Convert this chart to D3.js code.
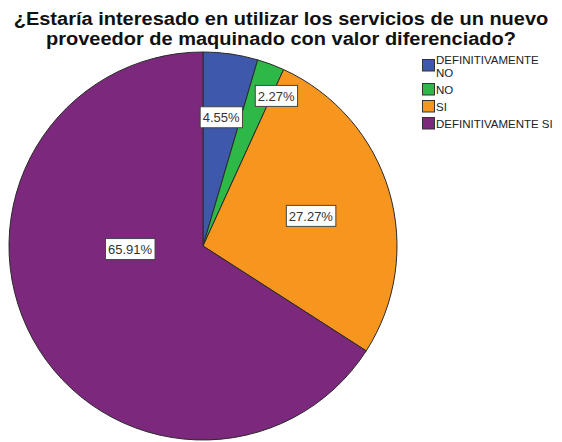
<!DOCTYPE html>
<html>
<head>
<meta charset="utf-8">
<script src="https://cdn.jsdelivr.net/npm/d3@7"></script>
<style>
  html, body { margin: 0; padding: 0; background: #fff; }
  svg { display: block; }
</style>
</head>
<body>
<div id="chart"></div>
<script>
// Survey answers and their share of respondents (%)
const categories = ["DEFINITIVAMENTE NO", "NO", "SI", "DEFINITIVAMENTE SI"];
const percentages = [4.55, 2.27, 27.27, 65.91];
const legendLines = [["DEFINITIVAMENTE", "NO"], ["NO"], ["SI"], ["DEFINITIVAMENTE SI"]];
const sliceColors = ["#3E58AC", "#2EB848", "#F7961E", "#7C287D"];
const titleLines = [
  "¿Estaría interesado en utilizar los servicios de un nuevo",
  "proveedor de maquinado con valor diferenciado?"
];

const W = 562, H = 442;
const cx = 203, cy = 246, R = 194;

const svg = d3.select("#chart").append("svg")
  .attr("width", W).attr("height", H);

// Title: a slightly widened bold face, two centred lines
const titleSize = 18, titleStretch = 20 / 18;
titleLines.forEach((t, i) => {
  const el = svg.append("text")
    .attr("font-family", "Liberation Sans, Arial, sans-serif")
    .attr("font-weight", "bold").attr("font-size", titleSize).attr("fill", "#111")
    .attr("text-anchor", "middle")
    .attr("x", 281).attr("y", 24.5 + i * 20.3)
    .text(t);
  const w = el.node().getComputedTextLength();
  el.attr("textLength", w * titleStretch).attr("lengthAdjust", "spacingAndGlyphs");
});

// Pie
const pie = d3.pie().sort(null).value(d => d)(percentages);
const arc = d3.arc().innerRadius(0).outerRadius(R);

const g = svg.append("g").attr("transform", `translate(${cx},${cy})`);
g.selectAll("path").data(pie).join("path")
  .attr("d", arc)
  .attr("fill", (d, i) => sliceColors[i])
  .attr("stroke", "#2a2a2a")
  .attr("stroke-width", 1)
  .attr("stroke-linejoin", "round");

// Percentage labels: placement as (angle in degrees clockwise from top, distance from centre)
const labelPlacement = [[8, 130], [26, 167], [74.4, 112], [267.6, 73]];
const fmt = d => d.toFixed(2) + "%";
const labels = g.selectAll("g.lbl").data(pie).join("g").attr("class", "lbl")
  .attr("transform", (d, i) => {
    const [deg, r] = labelPlacement[i];
    const a = deg * Math.PI / 180;
    return `translate(${r * Math.sin(a)},${-r * Math.cos(a)})`;
  });
labels.append("text")
  .attr("font-family", "Liberation Sans, Arial, sans-serif")
  .attr("font-size", 13)
  .attr("fill", "#333")
  .attr("text-anchor", "middle")
  .attr("dy", "0.36em")
  .text(d => fmt(d.data));
labels.each(function() {
  const gg = d3.select(this);
  const bb = gg.select("text").node().getBBox();
  gg.insert("rect", "text")
    .attr("x", bb.x - 2.5).attr("y", -10.5)
    .attr("width", bb.width + 5).attr("height", 21)
    .attr("fill", "#fff").attr("stroke", "#444").attr("stroke-width", 1);
});

// Legend
const legendTops = [59, 83, 100, 117];
const legend = svg.append("g")
  .attr("font-family", "Liberation Sans, Arial, sans-serif")
  .attr("font-size", 11.5).attr("fill", "#222");
categories.forEach((c, i) => {
  const top = legendTops[i];
  legend.append("rect")
    .attr("x", 422.5).attr("y", top + 0.5)
    .attr("width", 12).attr("height", 11.5)
    .attr("fill", sliceColors[i]).attr("stroke", "#333").attr("stroke-width", 1);
  const lines = legendLines[i];
  const baseY = lines.length > 1 ? top + 5 : top + 11;
  lines.forEach((ln, j) => {
    legend.append("text").attr("x", 436).attr("y", baseY + j * 13).text(ln);
  });
});
</script>
</body>
</html>
